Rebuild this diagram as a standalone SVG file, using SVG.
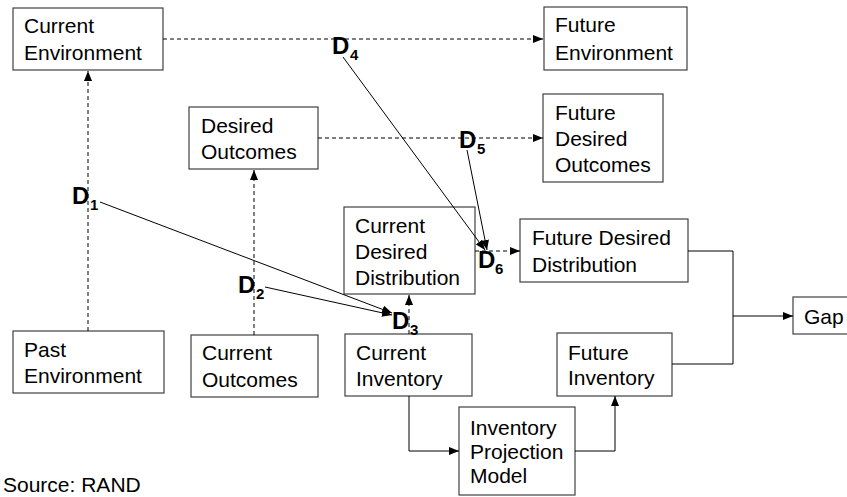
<svg xmlns="http://www.w3.org/2000/svg" width="847" height="497" viewBox="0 0 847 497">
<defs>
<style>
rect.box{fill:#fff;stroke:#404040;stroke-width:1.2}
text{font-family:"Liberation Sans",Arial,sans-serif;fill:#000}
.t{font-size:21px}
.d{font-size:24px;font-weight:bold}
.s{font-size:15px;font-weight:bold}
.c{fill:none;stroke:#000;stroke-width:1}
.dash{stroke-dasharray:4 3}
</style>
<marker id="a" markerWidth="10" markerHeight="8" refX="10" refY="4" orient="auto" markerUnits="userSpaceOnUse"><path d="M0,0 L10,4 L0,8 z" fill="#000"/></marker>
</defs>
<rect width="847" height="497" fill="#fff"/>
<g id="current-environment"><rect class="box" x="13" y="8" width="150" height="62"/><text class="t" x="24" y="33">Current</text><text class="t" x="24" y="60">Environment</text></g>
<g id="future-environment"><rect class="box" x="544" y="7" width="143" height="63"/><text class="t" x="555" y="32">Future</text><text class="t" x="555" y="60">Environment</text></g>
<g id="desired-outcomes"><rect class="box" x="189" y="107" width="129" height="62"/><text class="t" x="201" y="133">Desired</text><text class="t" x="201" y="159">Outcomes</text></g>
<g id="future-desired-outcomes"><rect class="box" x="543" y="94" width="120" height="88"/><text class="t" x="555" y="120">Future</text><text class="t" x="555" y="146">Desired</text><text class="t" x="555" y="172">Outcomes</text></g>
<g id="current-desired-distribution"><rect class="box" x="344" y="207" width="131" height="87"/><text class="t" x="355" y="233">Current</text><text class="t" x="355" y="259">Desired</text><text class="t" x="355" y="285">Distribution</text></g>
<g id="future-desired-distribution"><rect class="box" x="520" y="219" width="168" height="63"/><text class="t" x="532" y="245">Future Desired</text><text class="t" x="532" y="272">Distribution</text></g>
<g id="gap"><rect class="box" x="793" y="297" width="60" height="37"/><text class="t" x="804" y="324">Gap</text></g>
<g id="past-environment"><rect class="box" x="13" y="331" width="151" height="62"/><text class="t" x="24" y="357">Past</text><text class="t" x="24" y="383">Environment</text></g>
<g id="current-outcomes"><rect class="box" x="191" y="335" width="127" height="62"/><text class="t" x="202" y="360">Current</text><text class="t" x="202" y="387">Outcomes</text></g>
<g id="current-inventory"><rect class="box" x="345" y="334" width="127" height="62"/><text class="t" x="356" y="360">Current</text><text class="t" x="356" y="386">Inventory</text></g>
<g id="inventory-projection-model"><rect class="box" x="459" y="407" width="116" height="88"/><text class="t" x="470" y="435">Inventory</text><text class="t" x="470" y="459">Projection</text><text class="t" x="470" y="483">Model</text></g>
<g id="future-inventory"><rect class="box" x="557" y="333" width="115" height="63"/><text class="t" x="568" y="360">Future</text><text class="t" x="568" y="385">Inventory</text></g>
<g id="connectors">
<line class="c dash" x1="88" y1="331" x2="88" y2="71" marker-end="url(#a)"/>
<line class="c dash" x1="163" y1="39" x2="543" y2="39" marker-end="url(#a)"/>
<line class="c dash" x1="254" y1="335" x2="254" y2="170" marker-end="url(#a)"/>
<line class="c dash" x1="318" y1="138" x2="543" y2="138" marker-end="url(#a)"/>
<line class="c dash" x1="409" y1="334" x2="409" y2="295" marker-end="url(#a)"/>
<line class="c dash" x1="475" y1="251" x2="520" y2="251" marker-end="url(#a)"/>
<polyline class="c" points="688,251 733,251 733,364 672,364"/>
<line class="c" x1="733" y1="316" x2="793" y2="316" marker-end="url(#a)"/>
<polyline class="c" points="409,396 409,451 459,451" marker-end="url(#a)"/>
<polyline class="c" points="575,451 615,451 615,396" marker-end="url(#a)"/>
<line class="c" x1="100" y1="202" x2="392" y2="313" marker-end="url(#a)"/>
<line class="c" x1="265" y1="287" x2="392" y2="315" marker-end="url(#a)"/>
<line class="c" x1="343" y1="57" x2="485" y2="250" marker-end="url(#a)"/>
<line class="c" x1="467" y1="150" x2="487" y2="250" marker-end="url(#a)"/>
</g>
<g id="labels">
<text class="d" x="72" y="204">D</text><text class="s" x="90" y="210">1</text>
<text class="d" x="238" y="293">D</text><text class="s" x="256" y="299">2</text>
<text class="d" x="392" y="329">D</text><text class="s" x="410" y="335">3</text>
<text class="d" x="332" y="54">D</text><text class="s" x="350" y="60">4</text>
<text class="d" x="459" y="148">D</text><text class="s" x="477" y="154">5</text>
<text class="d" x="478" y="268">D</text><text class="s" x="495" y="274">6</text>
<text class="t" x="3" y="492">Source: RAND</text>
</g>
</svg>
